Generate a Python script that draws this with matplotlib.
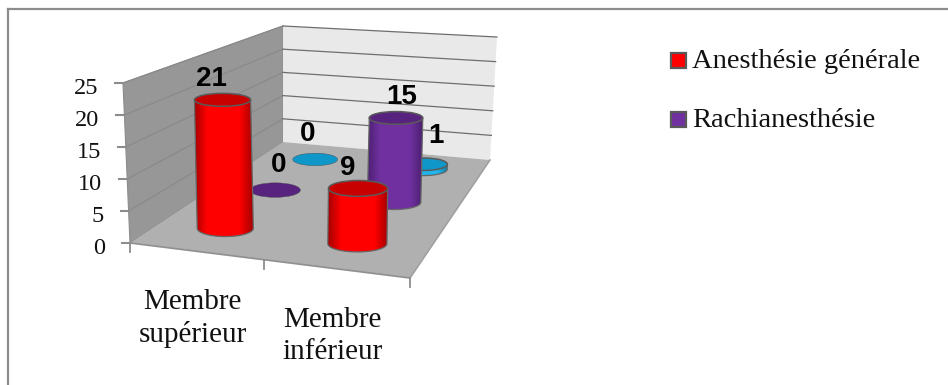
import numpy as np
import matplotlib.pyplot as plt
from matplotlib.colors import LinearSegmentedColormap
from matplotlib.patches import Ellipse, Polygon, Rectangle

categories = ["Membre\nsupérieur", "Membre\ninférieur"]
anesthesie_generale = [21, 9]
rachianesthesie = [0, 15]
troisieme_serie = [0, 1]
y_ticks = [0, 5, 10, 15, 20, 25]
legend_labels = ["Anesthésie générale", "Rachianesthésie"]

W, H = 948, 385
SERIF = "Liberation Serif"
BOLD = "Liberation Sans"

# floor corners and wall height vectors of the 3d box, in pixels
FL, FR, BL, BR = (130, 243), (410, 278), (283, 142), (490, 160)
UP_FL, UP_FR, UP_BL, UP_BR = (-7, -160), (4, -160), (0, -116), (7, -123)
Z_MAX = 25


def floor_matrix():
    src = [(0, 0), (1, 0), (0, 1), (1, 1)]
    dst = [FL, FR, BL, BR]
    a, b = [], []
    for (u, v), (x, y) in zip(src, dst):
        a.append([u, v, 1, 0, 0, 0, -u*x, -v*x])
        a.append([0, 0, 0, u, v, 1, -u*y, -v*y])
        b += [x, y]
    return np.append(np.linalg.solve(np.array(a, float), np.array(b, float)), 1).reshape(3, 3)


M = floor_matrix()


def project(u, v, z=0):
    px, py, w = M @ np.array([u, v, 1.0])
    up = ((1-u)*(1-v)*np.array(UP_FL) + u*(1-v)*np.array(UP_FR)
          + (1-u)*v*np.array(UP_BL) + u*v*np.array(UP_BR))
    return np.array([px/w, py/w]) + up*z/Z_MAX


def ellipse_size(u, v, z):
    # far and high ellipses are narrower and flatter
    return 59 - 17*v + 6*(u-0.25), 17.5 - 6*v - 5*(z/25)**2


def shade(color, dark):
    return LinearSegmentedColormap.from_list(
        "c", [(0, dark), (0.22, color), (0.78, color), (1, dark)])


fig = plt.figure(figsize=(W/100, H/100), dpi=100)
ax = fig.add_axes([0, 0, 1, 1])
ax.axis("off")

# outer frame, only top and left are visible
ax.plot([8, 8], [H, 9], color="#8c8c8c", lw=1.6)
ax.plot([8, W], [9, 9], color="#8c8c8c", lw=1.6)

# walls and floor
left_wall = [project(0, 0), project(0, 1), project(0, 1, Z_MAX), project(0, 0, Z_MAX)]
back_wall = [project(0, 1), project(1, 1), project(1, 1, Z_MAX), project(0, 1, Z_MAX)]
floor = [project(0, 0), project(1, 0), project(1, 1), project(0, 1)]
ax.add_patch(Polygon(left_wall, fc="#979797", ec="#8c8c8c", lw=0.8, zorder=1))
ax.add_patch(Polygon(back_wall, fc="#e9e9e9", ec="none", zorder=1))
for t in y_ticks[1:]:
    a, b, c = project(0, 0, t), project(0, 1, t), project(1, 1, t)
    ax.plot([a[0], b[0]], [a[1], b[1]], color="#8a8a8a", lw=0.9, zorder=2)
    ax.plot([b[0], c[0]], [b[1], c[1]], color="#6e6e6e", lw=0.9, zorder=2)
ax.add_patch(Polygon(floor, fc="#b0b0b0", ec="none", zorder=3))
f0, f1 = project(0, 0), project(1, 0)
ax.plot([f0[0], f1[0]], [f0[1], f1[1]], color="#8f8f8f", lw=1.2, zorder=3)
f2 = project(1, 1)
ax.plot([f1[0], f2[0]], [f1[1], f2[1]], color="#a0a0a0", lw=1.2, zorder=3)

# y axis ticks
for t in y_ticks:
    p = project(0, 0, t)
    ax.plot([p[0]-8, p[0]], [p[1], p[1]], color="#8c8c8c", lw=1.5, zorder=3)
    ax.text(p[0]-25, p[1]+5, str(t), family=SERIF, fontsize=17.5, color="#111111",
            ha="right", va="center")

# x axis ticks and category labels
for u in [0, 0.5, 1]:
    p = project(u, 0)
    ax.plot([p[0], p[0]], [p[1], p[1]+9], color="#8c8c8c", lw=1.3, zorder=3)
for i, name in enumerate(categories):
    p = project(0.25 + 0.5*i, 0)
    ax.text(p[0]-3, p[1]+67, name, family=SERIF, fontsize=21, color="#111111",
            ha="center", va="center", linespacing=1.3)

zo = 4


def cylinder(u, v, value, color, dark, top_color):
    global zo
    base, top = project(u, v), project(u, v, value)
    w0, h0 = ellipse_size(u, v, 0)
    w1, h1 = ellipse_size(u, v, value)
    if value > 0:
        th = np.linspace(0, np.pi, 40)
        # lower half of the base ellipse, then straight up to the top rim
        lower = np.c_[base[0] + w0/2*np.cos(th), base[1] + h0/2*np.sin(th)]
        outline = np.vstack([[top[0]+w1/2, top[1]], lower, [top[0]-w1/2, top[1]]])
        side = Polygon(outline, fc="none", ec="#666666", lw=0.9, zorder=zo+1)
        ax.add_patch(side)
        x0, x1 = outline[:, 0].min(), outline[:, 0].max()
        im = ax.imshow(np.linspace(0, 1, 80).reshape(1, -1), cmap=shade(color, dark),
                       extent=(x0, x1, outline[:, 1].max(), outline[:, 1].min()),
                       aspect="auto", zorder=zo)
        im.set_clip_path(side)
    ec = "#5a5a5a" if value > 0 else "#4a4a4a"
    ax.add_patch(Ellipse(top, w1, h1, fc=top_color, ec=ec,
                         lw=1.1 if value > 0 else 0.3, zorder=zo+2))
    zo += 3


# back row first so nearer columns cover it
rows = [(5/6, troisieme_serie, "#20b6ec", "#0f7ea8", "#0f97c9"),
        (1/2, rachianesthesie, "#7030a0", "#4b2070", "#58237f"),
        (1/6, anesthesie_generale, "#ff0000", "#a80000", "#c80000")]
for v, values, color, dark, top_color in rows:
    for i, val in enumerate(values):
        cylinder(0.25 + 0.5*i, v, val, color, dark, top_color)

# value labels, nudged by hand away from the columns
label_offsets = {(0, 0): (-11, -21), (1, 0): (-10, -20),
                 (0, 1): (3, -25), (1, 1): (6, -21),
                 (0, 2): (-8, -25), (1, 2): (12, -28)}
for s, (v, values) in enumerate([(1/6, anesthesie_generale), (1/2, rachianesthesie),
                                 (5/6, troisieme_serie)]):
    for i, val in enumerate(values):
        p = project(0.25 + 0.5*i, v, val)
        dx, dy = label_offsets[(i, s)]
        ax.text(p[0]+dx, p[1]+dy, str(val), family=BOLD, weight="bold", fontsize=20,
                color="black", ha="center", va="center", zorder=50)

# legend
for label, color, y in zip(legend_labels, ["#ff0000", "#7030a0"], [53, 112]):
    ax.add_patch(Rectangle((671, y), 15, 15, fc=color, ec="#595959", lw=1.6, zorder=5))
    ax.text(692, y+15, label, family=SERIF, fontsize=20.5, color="#111111",
            ha="left", va="baseline")

ax.set_xlim(0, W)
ax.set_ylim(H, 0)
fig.savefig("out.png", dpi=100)
